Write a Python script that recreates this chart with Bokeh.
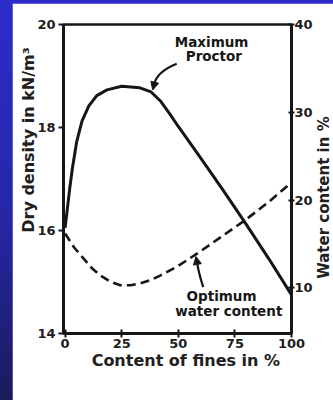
from bokeh.plotting import figure
from bokeh.models import (Range1d, LinearAxis, FixedTicker, Arrow, Label,
                          NormalHead, GlobalInlineStyleSheet)
from bokeh.core.properties import value
from bokeh.embed import file_html
from bokeh.resources import INLINE
import math

# ---- data ----
fines = [0, 1.0, 2.0, 3.2, 5.1, 7.5, 10.5, 14, 18.5, 25, 33, 38, 42, 46, 50, 60, 70, 80, 90, 100]
dry_density = [16.05, 16.42, 16.8, 17.2, 17.72, 18.13, 18.42, 18.62, 18.73, 18.8, 18.77,
               18.69, 18.52, 18.28, 18.02, 17.4, 16.77, 16.12, 15.45, 14.75]

fines_w = [0, 4, 8.3, 12, 15.6, 20, 24.4, 29, 33.2, 38, 42, 50, 60, 70, 80, 90, 100]
water = [16.2, 14.6, 13.3, 12.2, 11.4, 10.7, 10.3, 10.3, 10.5, 10.9, 11.4, 12.5, 14.2,
         16.0, 17.8, 19.8, 22.0]

x_ticks = [0, 25, 50, 75, 100]
left_ticks = [14, 16, 18, 20]
right_ticks = [10, 20, 30, 40]

x_title = "Content of fines in %"
left_title = "Dry density in kN/m³"
right_title = "Water content in %"

# annotation anchors (data units, left axis)
proctor_text = ["Maximum", "Proctor"]
proctor_text_x = [64.7, 65.7]
proctor_text_y = [19.66, 19.38]
optimum_text = ["Optimum", "water content"]
optimum_text_x = [69.1, 72.3]
optimum_text_y = [14.72, 14.43]
right_title_x = 114.3
right_title_y = 16.64

INK = "#161616"
FONT = "DejaVu Sans"
NB = "\u00a0"

p = figure(width=321, height=397, output_backend="svg", toolbar_location=None,
           x_range=Range1d(-0.7, 100), y_range=Range1d(14, 20),
           min_border_left=51, min_border_right=41, min_border_top=21,
           min_border_bottom=67, background_fill_color="white",
           border_fill_color="white")
p.margin = (3, 0, 0, 12)
p.extra_y_ranges = {"w": Range1d(4.8, 40)}
p.grid.visible = False
p.outline_line_color = INK
p.outline_line_width = 2.5

def style_axis(ax):
    ax.axis_line_color = INK
    ax.axis_line_width = 3
    ax.major_tick_line_color = INK
    ax.major_tick_line_width = 2
    ax.minor_tick_line_color = None
    ax.major_label_text_font = FONT
    ax.major_label_text_font_style = "bold"
    ax.major_label_text_font_size = "13px"
    ax.major_label_text_color = "#202020"
    ax.axis_label_text_font = FONT
    ax.axis_label_text_font_style = "bold"
    ax.axis_label_text_font_size = "16px"
    ax.axis_label_text_color = "#202020"

xa = p.xaxis[0]
style_axis(xa)
xa.ticker = FixedTicker(ticks=x_ticks)
xa.major_tick_in = 4
xa.major_tick_out = 4
xa.major_label_standoff = 1
xa.axis_label = NB * 3 + x_title
xa.axis_label_standoff = 0

ya = p.yaxis[0]
style_axis(ya)
ya.ticker = FixedTicker(ticks=left_ticks)
ya.major_tick_in = 0
ya.major_tick_out = 5
ya.major_label_standoff = 3
ya.axis_label = NB * 14 + left_title
ya.axis_label_standoff = -4

ra = LinearAxis(y_range_name="w", ticker=FixedTicker(ticks=right_ticks))
style_axis(ra)
ra.major_tick_in = 3
ra.major_tick_out = 3
ra.major_label_standoff = 0
p.add_layout(ra, "right")

# curves
p.line(fines, dry_density, line_width=3, line_color=INK)
p.line(fines_w, water, y_range_name="w", line_width=2.6, line_color=INK,
       line_dash="9 5")

# annotation texts
p.text(x=proctor_text_x, y=proctor_text_y, text=proctor_text,
       text_font=value(FONT), text_font_style="bold", text_font_size="13.5px",
       text_color=INK, text_align="center", text_baseline="middle")
p.text(x=optimum_text_x, y=optimum_text_y, text=optimum_text,
       text_font=value(FONT), text_font_style="bold", text_font_size="13.5px",
       text_color=INK, text_align="center", text_baseline="middle")

# curved leader arrows
p.bezier(x0=[49.32], y0=[19.237], x1=[39.34], y1=[18.835],
         cx0=[44.18], cy0=[19.146], cx1=[40.22], cy1=[19.03],
         line_width=2.2, line_color=INK)
p.add_layout(Arrow(end=NormalHead(size=8, fill_color=INK, line_color=INK),
                   x_start=39.34, y_start=18.835, x_end=38.7, y_end=18.728,
                   line_width=2.2, line_color=INK))
p.bezier(x0=[61.0], y0=[14.90], x1=[58.46], y1=[15.34],
         cx0=[59.6], cy0=[15.1], cx1=[58.8], cy1=[15.22],
         line_width=2.2, line_color=INK)
p.add_layout(Arrow(end=NormalHead(size=8, fill_color=INK, line_color=INK),
                   x_start=58.46, y_start=15.34, x_end=57.8, y_end=15.495,
                   line_width=2.2, line_color=INK))

# right axis title (placed in the right side panel so it is not clipped)
p.add_layout(Label(x=right_title_x, y=right_title_y, x_units="data", y_units="data",
                   text=right_title, angle=math.pi / 2,
                   text_font=FONT, text_font_style="bold", text_font_size="15px",
                   text_color="#202020", text_align="center",
                   text_baseline="middle"), "right")

p.stylesheets = [GlobalInlineStyleSheet(css=(
    "html{min-height:100%;background:linear-gradient(to bottom,#2c2ccc 0%,"
    "#2626a6 55%,#1b1b5c 100%);}"
    "body{background:transparent;}"))]

open("out.html", "w").write(file_html(p, INLINE))
